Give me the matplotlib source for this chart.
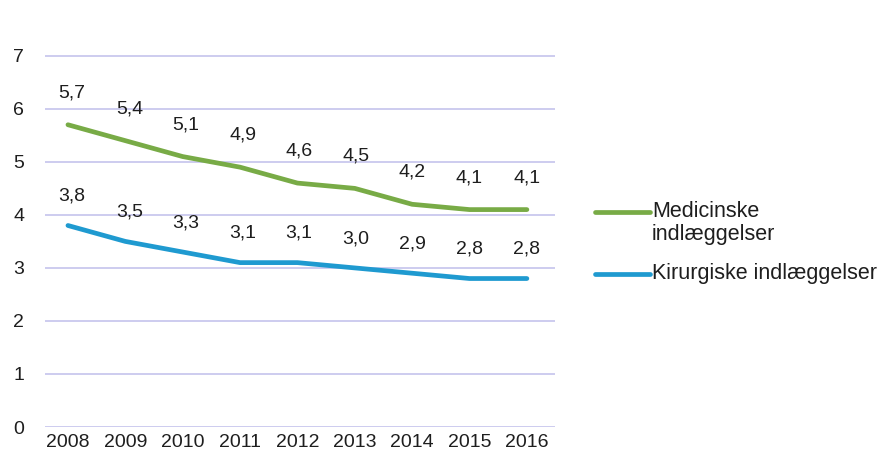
import matplotlib
matplotlib.use("Agg")
import matplotlib.pyplot as plt
from matplotlib.lines import Line2D

years = [2008, 2009, 2010, 2011, 2012, 2013, 2014, 2015, 2016]
medicinske = [5.7, 5.4, 5.1, 4.9, 4.6, 4.5, 4.2, 4.1, 4.1]
kirurgiske = [3.8, 3.5, 3.3, 3.1, 3.1, 3.0, 2.9, 2.8, 2.8]
series_names = ["Medicinske\nindlæggelser", "Kirurgiske indlæggelser"]
yticks = [0, 1, 2, 3, 4, 5, 6, 7]

plt.rcParams['font.family'] = ['Liberation Sans', 'DejaVu Sans']
FS = 14
LFS = 15.5
TXT = '#1e1e1e'

fig = plt.figure(figsize=(8.79, 4.59), dpi=100)
ax = fig.add_axes([45/879, 1 - 427/459, (555 - 45)/879, (427 - 24)/459])

green = "#78ab46"
blue = "#1f9ad0"

ax.plot(years, medicinske, color=green, lw=3.4, solid_capstyle='round', solid_joinstyle='round')
ax.plot(years, kirurgiske, color=blue, lw=3.4, solid_capstyle='round', solid_joinstyle='round')

offs_m = [3, 3, 2, 2, 1, 1, 0, 0, 0]
for x, y, dx in zip(years, medicinske, offs_m):
    ax.annotate(f"{y:.1f}".replace(".", ","), (x, y), xytext=(dx, 23), textcoords='offset points',
                ha='center', va='center', fontsize=FS, color=TXT)
for x, y, dx in zip(years, kirurgiske, offs_m):
    ax.annotate(f"{y:.1f}".replace(".", ","), (x, y), xytext=(dx, 21), textcoords='offset points',
                ha='center', va='center', fontsize=FS, color=TXT)

ax.set_xlim(2007.6, 2016.49)
ax.set_ylim(0, 7.6)
ax.set_yticks(yticks)
ax.set_xticks(years)
ax.set_xticklabels([str(y) for y in years])
ax.tick_params(axis='both', length=0, labelsize=FS, colors=TXT)
ax.tick_params(axis='y', pad=23)
ax.tick_params(axis='x', pad=5)
for s in ax.spines.values():
    s.set_visible(False)
ax.yaxis.grid(True, color='#c9c8ee', lw=1.3)
ax.set_axisbelow(True)
for lbl in ax.get_yticklabels():
    lbl.set_ha('left')

# legend drawn manually (handle aligned with first text line)
def fx(px):
    return px / 879
def fy(py):
    return 1 - py / 459

fig.add_artist(Line2D([fx(595), fx(650)], [fy(212), fy(212)], color=green, lw=3.4,
                      transform=fig.transFigure, solid_capstyle='round'))
fig.text(fx(652), fy(201), series_names[0], fontsize=LFS, color=TXT, ha='left', va='top',
         linespacing=1.1, transform=fig.transFigure)
fig.add_artist(Line2D([fx(595), fx(650)], [fy(274), fy(274)], color=blue, lw=3.4,
                      transform=fig.transFigure, solid_capstyle='round'))
fig.text(fx(652), fy(274), series_names[1], fontsize=LFS, color=TXT, ha='left', va='center',
         transform=fig.transFigure)

fig.savefig("out.png", dpi=100, facecolor='white')
